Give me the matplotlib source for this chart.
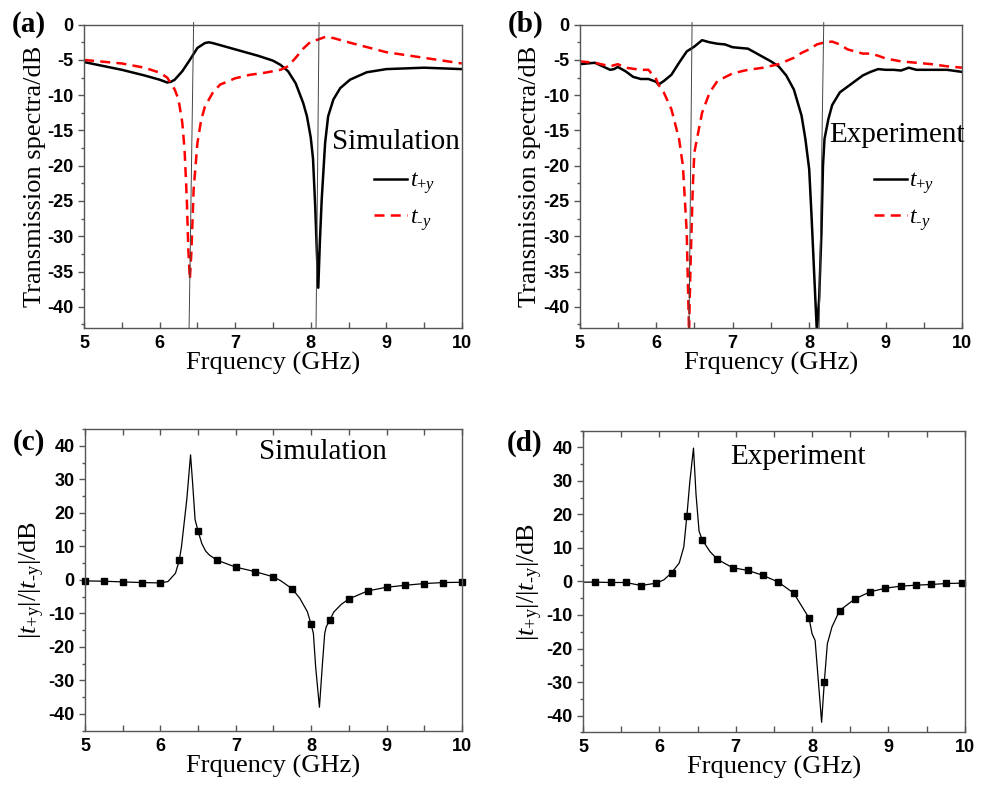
import matplotlib
matplotlib.use("Agg")
import matplotlib.pyplot as plt
from matplotlib.ticker import MultipleLocator
from matplotlib.font_manager import FontProperties
from matplotlib import rcParams

rcParams['font.family'] = 'Liberation Serif'
rcParams['mathtext.fontset'] = 'custom'
rcParams['mathtext.rm'] = 'Liberation Serif'
rcParams['mathtext.it'] = 'Liberation Serif:italic'

# ---- (a) simulation spectra ----
sim_fp = [5.0, 5.5, 5.8, 6.0, 6.1, 6.15, 6.2, 6.3, 6.4, 6.5, 6.6, 6.65, 6.7, 7.0, 7.3, 7.5, 7.6, 7.7,
          7.8, 7.9, 7.95, 8.0, 8.03, 8.06, 8.08, 8.1, 8.12, 8.145, 8.19, 8.23, 8.3, 8.39, 8.52, 8.74,
          9.0, 9.5, 10.0]
sim_tp = [-5.3, -6.4, -7.2, -7.8, -8.2, -8.1, -7.8, -6.6, -5.0, -3.3, -2.6, -2.5, -2.6, -3.5, -4.4,
          -5.1, -5.7, -6.6, -8.3, -11.1, -13.0, -16.0, -19.0, -26.0, -32.0, -37.3, -31.0, -24.8,
          -16.8, -13.0, -10.6, -9.0, -7.8, -6.75, -6.3, -6.1, -6.3]
sim_fm = [5.0, 5.5, 5.8, 6.0, 6.1, 6.2, 6.25, 6.3, 6.33, 6.36, 6.38, 6.4, 6.42, 6.45, 6.5, 6.55,
          6.6, 6.7, 6.8, 7.0, 7.2, 7.4, 7.6, 7.7, 7.8, 7.9, 8.0, 8.1, 8.2, 8.3, 8.5, 9.0, 9.5, 10.0]
sim_tm = [-5.0, -5.5, -6.1, -6.8, -7.5, -9.2, -10.6, -13.9, -17.7, -24.8, -31.9, -36.1, -32.3,
          -23.4, -16.8, -13.5, -11.6, -9.7, -8.5, -7.6, -7.1, -6.8, -6.4, -5.9, -4.7, -3.4, -2.4,
          -2.1, -1.7, -1.9, -2.5, -3.9, -4.7, -5.5]

# ---- (b) experiment spectra ----
exp_fp = [5.0, 5.1, 5.2, 5.3, 5.4, 5.45, 5.5, 5.6, 5.7, 5.8, 5.9, 6.0, 6.03, 6.1, 6.2, 6.3, 6.4,
          6.5, 6.6, 6.7, 6.8, 6.9, 7.0, 7.1, 7.2, 7.3, 7.4, 7.5, 7.6, 7.7, 7.8, 7.9, 7.95, 8.0,
          8.03, 8.07, 8.1, 8.13, 8.16, 8.18, 8.2, 8.25, 8.3, 8.4, 8.5, 8.6, 8.7, 8.8, 8.9, 9.0,
          9.1, 9.2, 9.3, 9.4, 9.6, 9.8, 10.0]
exp_tp = [-5.6, -5.5, -5.4, -5.9, -6.4, -6.3, -6.0, -6.6, -7.4, -7.7, -7.7, -8.1, -8.5, -8.0,
          -7.1, -5.4, -3.8, -3.1, -2.2, -2.5, -2.7, -2.8, -3.2, -3.3, -3.4, -4.0, -4.6, -5.2,
          -5.9, -7.2, -9.2, -12.9, -16.2, -20.5, -27.0, -36.5, -43.5, -38.8, -29.4, -20.0,
          -16.2, -13.4, -11.4, -9.6, -8.8, -8.0, -7.2, -6.7, -6.3, -6.4, -6.4, -6.5, -6.1,
          -6.4, -6.4, -6.4, -6.7]
exp_fm = [5.0, 5.2, 5.4, 5.5, 5.6, 5.8, 5.9, 6.0, 6.03, 6.1, 6.2, 6.3, 6.35, 6.4, 6.43, 6.45,
          6.48, 6.5, 6.55, 6.6, 6.7, 6.8, 7.0, 7.2, 7.4, 7.6, 7.8, 7.9, 8.0, 8.1, 8.2, 8.3, 8.4,
          8.5, 8.6, 8.7, 8.8, 8.9, 9.0, 9.1, 9.2, 9.4, 9.6, 9.8, 10.0]
exp_tm = [-5.2, -5.4, -5.9, -5.6, -6.1, -6.4, -6.4, -7.7, -8.5, -9.6, -12.0, -16.2, -20.0, -29.4,
          -43.5, -34.0, -22.8, -18.1, -15.3, -12.5, -9.6, -8.0, -6.9, -6.4, -6.1, -5.6, -4.7,
          -4.0, -3.5, -2.8, -2.5, -2.4, -2.8, -3.5, -3.8, -4.1, -4.1, -4.4, -4.8, -5.0, -5.2,
          -5.4, -5.6, -5.9, -6.1]

# thin guide lines (bottom x, top x)
guide_a_bot = [6.39, 8.07]
guide_a_top = [6.45, 8.11]
guide_b_bot = [6.43, 8.13]
guide_b_top = [6.47, 8.19]

# ---- (c) simulated ratio ----
ratio_sim_f = [5.0, 5.25, 5.5, 5.75, 6.0, 6.1, 6.2, 6.25, 6.28, 6.35, 6.4, 6.43, 6.46, 6.5, 6.55,
               6.6, 6.65, 6.75, 7.0, 7.25, 7.5, 7.6, 7.75, 7.85, 7.95, 8.0, 8.03, 8.06, 8.11,
               8.15, 8.18, 8.2, 8.25, 8.3, 8.4, 8.5, 8.75, 9.0, 9.25, 9.5, 9.75, 10.0]
ratio_sim_v = [-0.3, -0.4, -0.6, -0.8, -0.9, -0.5, 2.0, 5.8, 10.0, 24.0, 37.3, 28.0, 18.0, 14.5,
               10.8, 8.6, 7.4, 5.9, 3.8, 2.5, 0.9, -0.3, -2.7, -5.5, -9.5, -13.3, -16.0, -26.0,
               -38.0, -25.0, -16.0, -14.0, -11.9, -9.6, -7.3, -5.7, -3.3, -2.2, -1.6, -1.1,
               -0.8, -0.7]
mark_sim_f = [5.0, 5.25, 5.5, 5.75, 6.0, 6.25, 6.5, 6.75, 7.0, 7.25, 7.5, 7.75, 8.0, 8.25, 8.5,
              8.75, 9.0, 9.25, 9.5, 9.75, 10.0]
mark_sim_v = [-0.3, -0.4, -0.6, -0.8, -0.9, 5.8, 14.5, 5.9, 3.8, 2.5, 0.9, -2.7, -13.3, -11.9,
              -5.7, -3.3, -2.2, -1.6, -1.1, -0.8, -0.7]

# ---- (d) measured ratio ----
ratio_exp_f = [5.0, 5.16, 5.36, 5.56, 5.76, 5.96, 6.06, 6.16, 6.26, 6.32, 6.36, 6.4, 6.447, 6.48,
               6.52, 6.56, 6.66, 6.76, 6.96, 7.16, 7.36, 7.56, 7.76, 7.96, 8.0, 8.04, 8.125,
               8.16, 8.2, 8.26, 8.36, 8.56, 8.76, 8.96, 9.16, 9.36, 9.56, 9.76, 9.96, 10.0]
ratio_exp_v = [-0.2, -0.2, -0.3, -0.3, -1.2, -0.5, 0.5, 2.6, 5.5, 10.3, 19.5, 30.0, 39.8, 26.0,
               15.0, 12.5, 9.0, 6.6, 4.1, 3.3, 1.8, -0.2, -3.5, -10.9, -15.6, -17.6, -42.0,
               -30.1, -18.6, -13.6, -8.7, -5.2, -3.1, -2.0, -1.4, -1.1, -0.9, -0.6, -0.5, -0.5]
mark_exp_f = [5.16, 5.36, 5.56, 5.76, 5.96, 6.16, 6.36, 6.56, 6.76, 6.96, 7.16, 7.36, 7.56, 7.76,
              7.96, 8.16, 8.36, 8.56, 8.76, 8.96, 9.16, 9.36, 9.56, 9.76, 9.96]
mark_exp_v = [-0.2, -0.3, -0.3, -1.2, -0.5, 2.6, 19.5, 12.5, 6.6, 4.1, 3.3, 1.8, -0.2, -3.5,
              -10.9, -30.1, -8.7, -5.2, -3.1, -2.0, -1.4, -1.1, -0.9, -0.6, -0.5]

# tick values
x_ticks = [5, 6, 7, 8, 9, 10]
spec_ticks = [0, -5, -10, -15, -20, -25, -30, -35, -40]
ratio_ticks = [40, 30, 20, 10, 0, -10, -20, -30, -40]

spine_col = '#555555'
tick_kw = dict(family='Liberation Sans', fontweight='bold', fontsize=13)
legend_fp = FontProperties(family='Liberation Serif', size=17)
hy = '\u2010'  # plain hyphen, not a math minus
lbl_p = r'$t_{+y}$'
lbl_m = '$t_{' + hy + 'y}$'
ratio_lbl = r'$|t_{+\mathrm{y}}|/|t_{' + hy + r'\mathrm{y}}|$/dB'

fig = plt.figure(figsize=(9.89, 7.96), dpi=100)
ax_a = fig.add_axes([0.085, 0.588, 0.382, 0.381])
ax_b = fig.add_axes([0.586, 0.588, 0.387, 0.381])
ax_c = fig.add_axes([0.086, 0.082, 0.381, 0.379])
ax_d = fig.add_axes([0.5895, 0.080, 0.386, 0.379])


def style(ax, ylim, yticks, ymin, top_ticks):
    ax.set_xlim(5, 10)
    ax.set_ylim(*ylim)
    ax.set_xticks(x_ticks, [str(v) for v in x_ticks], **tick_kw)
    ax.set_yticks(yticks, [str(v) for v in yticks], **tick_kw)
    ax.xaxis.set_minor_locator(MultipleLocator(0.5))
    ax.yaxis.set_minor_locator(MultipleLocator(ymin))
    for s in ax.spines.values():
        s.set_color(spine_col)
        s.set_linewidth(1.0)
    ax.tick_params(axis='y', which='major', direction='out', length=4, width=1, color=spine_col)
    ax.tick_params(axis='y', which='minor', direction='out', length=2.5, width=1, color=spine_col)
    ax.tick_params(axis='x', which='both', direction='in', length=4, width=1, color=spine_col,
                   top=top_ticks, pad=5)
    ax.set_xlabel('Frquency (GHz)', fontsize=19, labelpad=0)


# (a)
ax_a.plot(sim_fp, sim_tp, color='black', lw=1.8, label=lbl_p)
ax_a.plot(sim_fm, sim_tm, color='red', lw=1.8, dashes=(4, 2.5), label=lbl_m)
for xb, xt in zip(guide_a_bot, guide_a_top):
    ax_a.plot([xb, xt], [-43, 0.3], color='#444444', lw=0.7, clip_on=False)
style(ax_a, (-43, 0), spec_ticks, 2.5, False)
ax_a.set_ylabel('Transmission spectra/dB', fontsize=19, labelpad=1)
ax_a.text(9.13, -16.7, 'Simulation', fontsize=21, ha='center', va='center')
ax_a.legend(loc='upper left', bbox_to_anchor=(0.768, 0.52), frameon=False, prop=legend_fp,
            handlelength=1.4, handletextpad=0.1, labelspacing=0.45, borderpad=0, borderaxespad=0)

# (b)
ax_b.plot(exp_fp, exp_tp, color='black', lw=1.8, label=lbl_p)
ax_b.plot(exp_fm, exp_tm, color='red', lw=1.8, dashes=(4, 2.5), label=lbl_m)
for xb, xt in zip(guide_b_bot, guide_b_top):
    ax_b.plot([xb, xt], [-43, 0.3], color='#444444', lw=0.7, clip_on=False)
style(ax_b, (-43, 0), spec_ticks, 2.5, False)
ax_b.set_ylabel('Transmission spectra/dB', fontsize=19, labelpad=1)
ax_b.text(9.14, -15.7, 'Experiment', fontsize=21, ha='center', va='center')
ax_b.legend(loc='upper left', bbox_to_anchor=(0.768, 0.52), frameon=False, prop=legend_fp,
            handlelength=1.4, handletextpad=0.1, labelspacing=0.45, borderpad=0, borderaxespad=0)

# (c)
ax_c.plot(ratio_sim_f, ratio_sim_v, color='black', lw=0.9)
ax_c.plot(mark_sim_f, mark_sim_v, ls='none', marker='s', ms=5, color='black', clip_on=False)
style(ax_c, (-45, 45), ratio_ticks, 5, True)
ax_c.set_ylabel(ratio_lbl, fontsize=19, labelpad=1)
ax_c.text(8.16, 38.2, 'Simulation', fontsize=21, ha='center', va='center')

# (d)
ax_d.plot(ratio_exp_f, ratio_exp_v, color='black', lw=0.9)
ax_d.plot(mark_exp_f, mark_exp_v, ls='none', marker='s', ms=5, color='black', clip_on=False)
style(ax_d, (-45, 45), ratio_ticks, 5, True)
ax_d.set_ylabel(ratio_lbl, fontsize=19, labelpad=1)
ax_d.text(7.81, 37, 'Experiment', fontsize=21, ha='center', va='center')

# panel letters
for lbl, (px, py) in zip(['(a)', '(b)', '(c)', '(d)'],
                         [(12, 24), (508, 24), (13, 443), (507, 443)]):
    fig.text(px / 989, 1 - py / 796, lbl, fontsize=21, fontweight='bold', ha='left', va='center')

fig.savefig('out.png', dpi=100)
